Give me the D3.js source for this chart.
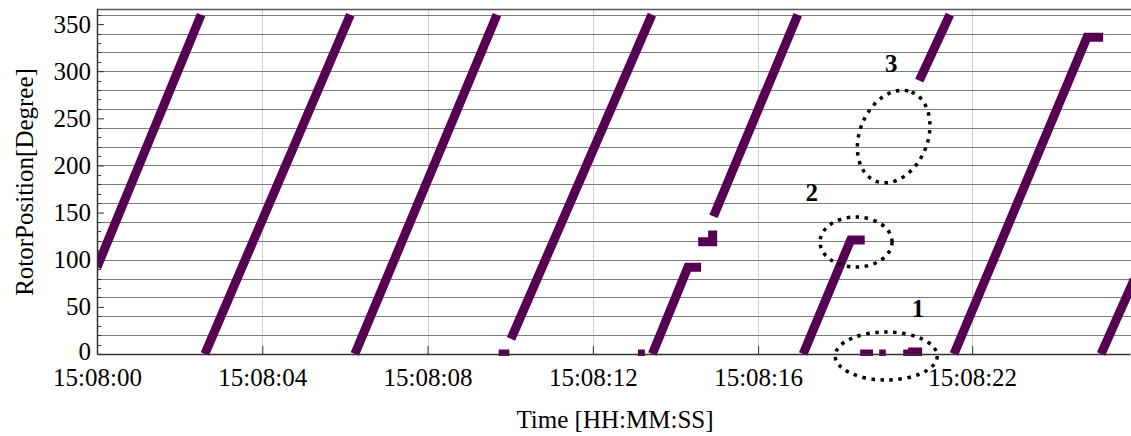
<!DOCTYPE html>
<html>
<head>
<meta charset="utf-8">
<script src="https://cdn.jsdelivr.net/npm/d3@7"></script>
<style>
  html, body { margin: 0; padding: 0; background: #ffffff; }
  svg { display: block; }
  text { font-family: "Liberation Serif", "Times New Roman", serif; fill: #000; }
</style>
</head>
<body>
<svg id="chart" width="1131" height="436"></svg>
<script>
// ---- Data (time in seconds after 15:08:00, rotor position in degrees) ----
const segA = [[0, 92], [2.52, 360]];
const segB = [[2.61, 0], [6.13, 360]];
const segC = [[6.24, 0], [9.68, 360]];
const dashD = [[9.72, 0], [9.98, 0]];
const segD = [[10.02, 16], [13.43, 360]];
const dashE = [[13.09, 0], [13.26, 0]];
const segE1 = [[13.44, 0], [14.30, 92], [14.62, 92]];
const dashE2 = [[14.55, 119], [14.90, 119], [14.90, 131]];
const segE2 = [[14.92, 146], [16.96, 360]];
const segF = [[17.09, 0], [18.24, 121], [18.58, 121]];
const dash1a = [[18.47, 0], [18.78, 0]];
const dash1b = [[18.93, 0], [19.09, 0]];
const dash1c = [[19.51, 0], [19.74, 0], [19.74, 2], [19.97, 2]];
const seg3 = [[19.90, 290], [20.64, 360]];
const segG = [[20.74, 0], [23.96, 336], [24.35, 336]];
const segH = [[24.30, 0], [25.10, 79]];
const segments = [segA, segB, segC, dashD, segD, dashE, segE1, dashE2, segE2,
                  segF, dash1a, dash1b, dash1c, seg3, segG, segH];

const xTickValues = [0, 4, 8, 12, 16, 21.18];
const xTickLabels = ["15:08:00", "15:08:04", "15:08:08", "15:08:12", "15:08:16", "15:08:22"];
const yTickValues = [0, 50, 100, 150, 200, 250, 300, 350];
const yGridValues = [20, 40, 60, 80, 100, 120, 140, 160, 180, 200, 220, 240, 260, 280, 300, 320, 340, 360];
const yMinorTicks = [10, 20, 30, 40, 60, 70, 80, 90, 110, 120, 130, 140, 160, 170, 180, 190,
                     210, 220, 230, 240, 260, 270, 280, 290, 310, 320, 330, 340, 360];

// annotations: [label, t, v] (label baseline) and ellipse centres [t, v]
const annLabels = [["1", 19.87, 39], ["2", 17.30, 162], ["3", 19.22, 299]];
const annEllipses = [[19.10, -2.1], [18.37, 118.8], [19.28, 230.7]];

// ---- Layout ----
const L = 97, R = 1130, T = 9, B = 354;
const svg = d3.select("#chart");
const x = d3.scaleLinear().domain([0, 25]).range([L, R]);
const y = d3.scaleLinear().domain([0, 366]).range([B, T]);

// vertical light grid
svg.append("g").selectAll("line").data(xTickValues).join("line")
  .attr("x1", d => Math.round(x(d)) + 0.5).attr("x2", d => Math.round(x(d)) + 0.5)
  .attr("y1", T).attr("y2", B)
  .attr("stroke", "#cfcfcf").attr("stroke-width", 1);

// horizontal grid
svg.append("g").selectAll("line").data(yGridValues).join("line")
  .attr("x1", L).attr("x2", 1131)
  .attr("y1", d => Math.round(y(d)) + 0.5).attr("y2", d => Math.round(y(d)) + 0.5)
  .attr("stroke", "#7d7d7d").attr("stroke-width", 1);

// top border
svg.append("line").attr("x1", L).attr("x2", 1131).attr("y1", T + 0.5).attr("y2", T + 0.5)
  .attr("stroke", "#555").attr("stroke-width", 1.5);

// data
svg.append("defs").append("clipPath").attr("id", "clip")
  .append("rect").attr("x", L).attr("y", T).attr("width", 1131 - L).attr("height", B - T + 2);
const line = d3.line().x(d => x(d[0])).y(d => y(d[1]));
svg.append("g").attr("clip-path", "url(#clip)")
  .selectAll("path").data(segments).join("path")
  .attr("d", line)
  .attr("fill", "none").attr("stroke", "#560053").attr("stroke-width", 9)
  .attr("stroke-linecap", "butt").attr("stroke-linejoin", "miter");

// axes
const xAxis = d3.axisBottom(x).tickValues(xTickValues)
  .tickFormat((d, i) => xTickLabels[i]).tickSizeInner(-8).tickSizeOuter(0).tickPadding(14);
const gx = svg.append("g").attr("transform", `translate(0,${B})`).call(xAxis);
gx.select(".domain").attr("stroke", "#333").attr("stroke-width", 1.5);
gx.selectAll(".tick line").attr("stroke", "#333");
gx.selectAll("text").attr("font-size", 25).attr("font-family", "Liberation Serif").attr("fill", "#000");

const yAxis = d3.axisLeft(y).tickValues(yTickValues).tickSizeInner(-7).tickSizeOuter(0).tickPadding(6);
const gy = svg.append("g").attr("transform", `translate(${L},0)`).call(yAxis);
gy.select(".domain").attr("stroke", "#333").attr("stroke-width", 1.5);
gy.selectAll(".tick line").attr("stroke", "#333");
gy.selectAll("text").attr("font-size", 25).attr("font-family", "Liberation Serif").attr("fill", "#000")
  .attr("dy", d => d === 0 ? "0.22em" : "0.32em");

svg.append("g").selectAll("line").data(yMinorTicks).join("line")
  .attr("x1", L).attr("x2", L + 4)
  .attr("y1", d => Math.round(y(d)) + 0.5).attr("y2", d => Math.round(y(d)) + 0.5)
  .attr("stroke", "#333").attr("stroke-width", 1);

// titles
svg.append("text").attr("x", 615).attr("y", 428).attr("text-anchor", "middle")
  .attr("font-size", 25).text("Time [HH:MM:SS]");
svg.append("text").attr("transform", "translate(33,182) rotate(-90)").attr("text-anchor", "middle")
  .attr("font-size", 25).text("RotorPosition[Degree]");

// annotations
const ellSizes = [[51, 24, 0], [36, 25, 0], [48, 34, -68]];
svg.append("g").selectAll("ellipse").data(annEllipses).join("ellipse")
  .attr("transform", (d, i) => `translate(${x(d[0])},${y(d[1])}) rotate(${ellSizes[i][2]})`)
  .attr("rx", (d, i) => ellSizes[i][0]).attr("ry", (d, i) => ellSizes[i][1])
  .attr("fill", "none").attr("stroke", "#000").attr("stroke-width", 3.5)
  .attr("stroke-dasharray", "3.5,5.5");
svg.append("g").selectAll("text").data(annLabels).join("text")
  .attr("x", d => x(d[1])).attr("y", d => y(d[2])).attr("text-anchor", "middle")
  .attr("font-size", 25).attr("font-weight", "bold").text(d => d[0]);
</script>
</body>
</html>
